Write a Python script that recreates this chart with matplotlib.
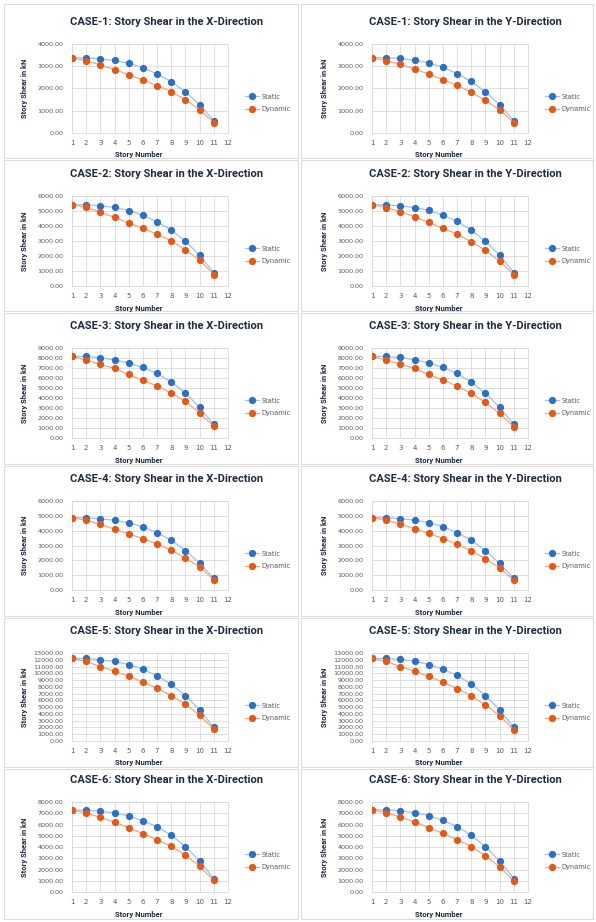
import matplotlib
matplotlib.use("Agg")
import matplotlib.pyplot as plt
from matplotlib.patches import Rectangle

stories = list(range(1, 12))
x_ticks = list(range(1, 13))
series_names = ["Static", "Dynamic"]
case_names = ["CASE-1", "CASE-2", "CASE-3", "CASE-4", "CASE-5", "CASE-6"]
y_max = [4000, 6000, 9000, 6000, 13000, 8000]

case1_x_static = [3380, 3380, 3330, 3260, 3130, 2940, 2650, 2310, 1840, 1270, 560]
case1_x_dynamic = [3380, 3250, 3060, 2850, 2620, 2380, 2130, 1860, 1490, 1050, 470]
case1_y_static = [3380, 3390, 3350, 3270, 3150, 2950, 2670, 2320, 1850, 1270, 560]
case1_y_dynamic = [3380, 3250, 3080, 2870, 2650, 2400, 2140, 1830, 1470, 1040, 460]

case2_x_static = [5420, 5420, 5340, 5240, 5030, 4730, 4280, 3720, 2990, 2050, 880]
case2_x_dynamic = [5420, 5240, 4920, 4580, 4190, 3860, 3440, 3020, 2400, 1720, 760]
case2_y_static = [5420, 5410, 5350, 5230, 5050, 4720, 4300, 3740, 2980, 2050, 890]
case2_y_dynamic = [5420, 5230, 4950, 4620, 4240, 3850, 3460, 2950, 2390, 1650, 760]

case3_x_static = [8150, 8150, 8030, 7800, 7500, 7050, 6450, 5600, 4500, 3050, 1350]
case3_x_dynamic = [8150, 7800, 7350, 6950, 6350, 5750, 5200, 4500, 3650, 2500, 1150]
case3_y_static = [8180, 8150, 8050, 7830, 7500, 7050, 6450, 5600, 4480, 3050, 1350]
case3_y_dynamic = [8180, 7800, 7400, 6950, 6350, 5800, 5200, 4450, 3550, 2450, 1100]

case4_x_static = [4870, 4860, 4800, 4700, 4530, 4250, 3860, 3360, 2660, 1800, 790]
case4_x_dynamic = [4870, 4700, 4430, 4100, 3780, 3460, 3100, 2690, 2140, 1550, 680]
case4_y_static = [4880, 4870, 4810, 4710, 4540, 4270, 3870, 3350, 2650, 1800, 790]
case4_y_dynamic = [4880, 4700, 4450, 4130, 3810, 3470, 3080, 2650, 2110, 1480, 660]

case5_x_static = [12200, 12200, 12000, 11750, 11300, 10600, 9650, 8350, 6700, 4600, 2000]
case5_x_dynamic = [12200, 11750, 11000, 10300, 9550, 8700, 7800, 6700, 5450, 3800, 1700]
case5_y_static = [12200, 12200, 12050, 11800, 11300, 10600, 9700, 8400, 6700, 4600, 2000]
case5_y_dynamic = [12200, 11750, 11000, 10300, 9550, 8700, 7750, 6700, 5300, 3750, 1650]

case6_x_static = [7280, 7280, 7190, 7030, 6760, 6330, 5800, 5050, 4030, 2750, 1200]
case6_x_dynamic = [7280, 7020, 6630, 6200, 5700, 5200, 4650, 4050, 3280, 2280, 1030]
case6_y_static = [7300, 7300, 7220, 7060, 6800, 6360, 5820, 5050, 4030, 2750, 1200]
case6_y_dynamic = [7300, 7050, 6650, 6230, 5720, 5220, 4650, 4030, 3220, 2230, 1000]

x_dir = [(case1_x_static, case1_x_dynamic), (case2_x_static, case2_x_dynamic),
         (case3_x_static, case3_x_dynamic), (case4_x_static, case4_x_dynamic),
         (case5_x_static, case5_x_dynamic), (case6_x_static, case6_x_dynamic)]
y_dir = [(case1_y_static, case1_y_dynamic), (case2_y_static, case2_y_dynamic),
         (case3_y_static, case3_y_dynamic), (case4_y_static, case4_y_dynamic),
         (case5_y_static, case5_y_dynamic), (case6_y_static, case6_y_dynamic)]

W, H = 596, 922
fig = plt.figure(figsize=(W / 100, H / 100), dpi=100)
fig.patch.set_facecolor("white")

title_font = ["Roboto", "DejaVu Sans"]
tick_color = "#595959"
text_dark = "#1f2a3d"
line_colors = ["#9cc2e8", "#f2a67a"]
marker_colors = ["#2e6fbf", "#e05a1a"]

ax_tops = [44, 196, 348, 501, 653, 802]
ax_bots = [133, 286, 438, 590, 741, 892]
col_left = [72, 372]
col_right = [228, 528]
panel_x = [(4, 298), (301, 593)]
panel_y = [(4, 158), (160, 311), (313, 464), (466, 616), (618, 767), (769, 919)]


def fx(px):
    return px / W


def fy(py):
    return 1 - py / H


for col, data in enumerate([x_dir, y_dir]):
    direction = "X" if col == 0 else "Y"
    for row in range(6):
        px0, px1 = panel_x[col]
        py0, py1 = panel_y[row]
        fig.patches.append(Rectangle((fx(px0), fy(py1)), fx(px1 - px0), (py1 - py0) / H,
                                     transform=fig.transFigure, fill=False,
                                     edgecolor="#dcdcdc", linewidth=0.8))
        l, r = col_left[col], col_right[col]
        t, b = ax_tops[row], ax_bots[row]
        ax = fig.add_axes([fx(l), fy(b), fx(r - l), (b - t) / H])
        for k, vals in enumerate(data[row]):
            ax.plot(stories, vals, color=line_colors[k], lw=0.9, marker="o",
                    markersize=4.2, markerfacecolor=marker_colors[k],
                    markeredgecolor=marker_colors[k], label=series_names[k], zorder=3)
        ax.set_xlim(1, 12)
        ax.set_ylim(0, y_max[row])
        ax.set_xticks(x_ticks)
        ax.set_yticks(range(0, y_max[row] + 1, 1000))
        ax.set_yticklabels([f"{v:.2f}" for v in range(0, y_max[row] + 1, 1000)])
        ax.tick_params(axis="both", length=0, labelsize=4.6, labelcolor=tick_color)
        ax.tick_params(axis="y", pad=6)
        ax.tick_params(axis="x", pad=5, labelsize=5)
        ax.grid(True, color="#d9d9d9", lw=0.6)
        for s in ax.spines.values():
            s.set_color("#d9d9d9")
            s.set_linewidth(0.6)
        ax.set_facecolor("none")
        cx = (l + r) / 2
        fig.text(fx(cx + 16 if col == 0 else cx + 15), fy(t - 22),
                 f"{case_names[row]}: Story Shear in the {direction}-Direction",
                 ha="center", va="center", fontsize=8, fontweight="bold",
                 family=title_font, color=text_dark)
        fig.text(fx(cx - 11 if col == 0 else cx - 11), fy(b + 22), "Story Number",
                 ha="center", va="center", fontsize=5.5, fontweight="bold",
                 family=title_font, color=text_dark)
        fig.text(fx(25 if col == 0 else 325), fy((t + b) / 2), "Story Shear in kN",
                 ha="center", va="center", rotation=90, fontsize=5.5, fontweight="bold",
                 family=title_font, color=text_dark)
        ax.legend(loc="center left", bbox_to_anchor=(fx(r + 14), fy(t + 59)),
                  bbox_transform=fig.transFigure, frameon=False, fontsize=4.8,
                  labelcolor=tick_color, handlelength=2.2, handletextpad=0.3,
                  labelspacing=1.0, borderaxespad=0)

fig.savefig("out.png", dpi=100, facecolor="white")
